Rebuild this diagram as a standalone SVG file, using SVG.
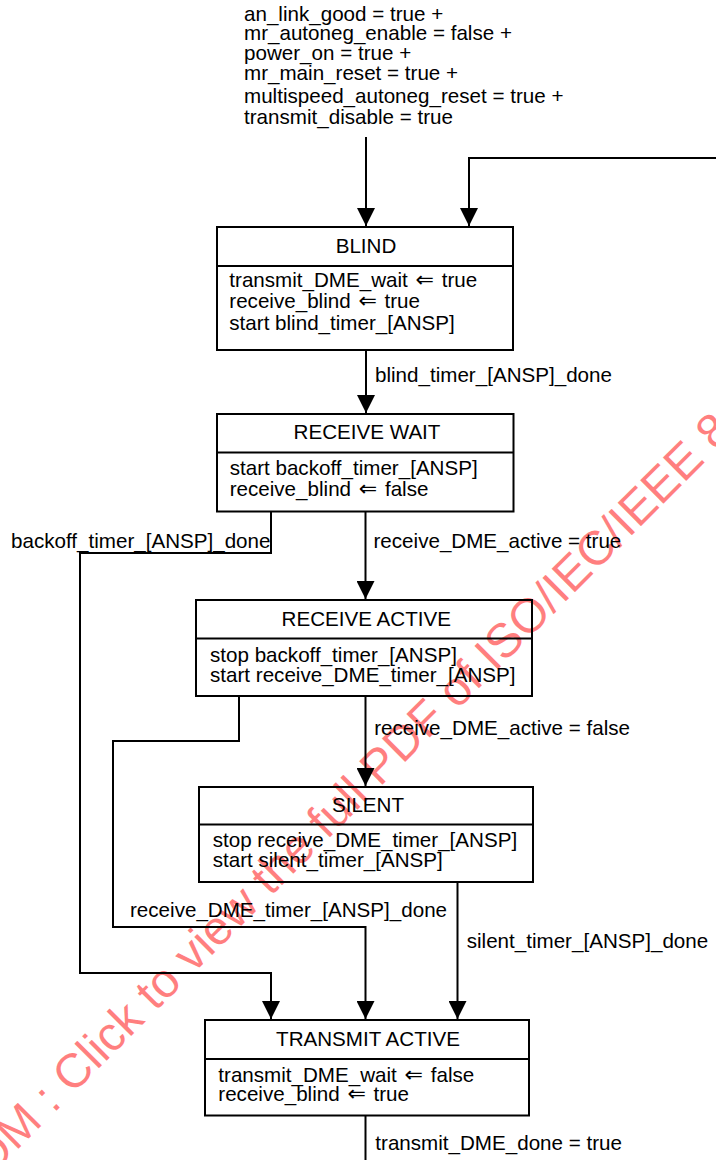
<svg xmlns="http://www.w3.org/2000/svg" width="716" height="1160" viewBox="0 0 716 1160">
<defs>
<style>
text{font-family:"Liberation Sans","DejaVu Sans",Arial,sans-serif;font-size:20.6px;fill:#000}
.t{text-anchor:middle}
.ar{font-family:"DejaVu Sans",sans-serif;font-size:22px}
.box{fill:none;stroke:#000;stroke-width:2}
.ln{fill:none;stroke:#000;stroke-width:2}
.wm{font-size:48px;fill:#ff0000;fill-opacity:0.5}
</style>
<marker id="ah" markerUnits="userSpaceOnUse" viewBox="0 0 18 18" markerWidth="18" markerHeight="18" refX="18" refY="9" orient="auto">
<path d="M0,0 L18,9 L0,18 z" fill="#000"/>
</marker>
</defs>
<rect x="0" y="0" width="716" height="1160" fill="#fff"/>
<g id="watermark" transform="translate(-10.6,1177.9) rotate(-45)">
<text class="wm" x="0" y="0">OM : Click to view the full PDF of ISO/IEC/IEEE 8</text>
</g>
<g id="start-condition">
<text x="244" y="21">an_link_good = true +</text>
<text x="244" y="39.5">mr_autoneg_enable = false +</text>
<text x="244" y="60">power_on = true +</text>
<text x="244" y="79.5">mr_main_reset = true +</text>
<text x="244" y="103">multispeed_autoneg_reset = true +</text>
<text x="244" y="123.5">transmit_disable = true</text>
</g>
<g id="connectors">
<path class="ln" d="M366,137 V226" marker-end="url(#ah)"/>
<path class="ln" d="M716,158 H469 V226" marker-end="url(#ah)"/>
<path class="ln" d="M366,350 V413" marker-end="url(#ah)"/>
<path class="ln" d="M365.5,511.5 V599" marker-end="url(#ah)"/>
<path class="ln" d="M271,511.5 V553 H80 V973 H271 V1019" marker-end="url(#ah)"/>
<path class="ln" d="M365.5,696 V786" marker-end="url(#ah)"/>
<path class="ln" d="M239,696 V741 H113 V927 H365.5 V1019" marker-end="url(#ah)"/>
<path class="ln" d="M457.5,882 V1019" marker-end="url(#ah)"/>
<path class="ln" d="M365.5,1115.5 V1160"/>
<text x="375" y="382">blind_timer_[ANSP]_done</text>
<text x="11" y="548.3">backoff_timer_[ANSP]_done</text>
<text x="373.5" y="548">receive_DME_active = true</text>
<text x="374.2" y="735">receive_DME_active = false</text>
<text x="130" y="916.7">receive_DME_timer_[ANSP]_done</text>
<text x="466.7" y="948.3">silent_timer_[ANSP]_done</text>
<text x="375.3" y="1150">transmit_DME_done = true</text>
</g>
<g id="blind">
<rect class="box" x="217" y="227" width="296" height="123"/>
<line class="ln" x1="217" y1="266" x2="513" y2="266"/>
<text class="t" x="366" y="253.3">BLIND</text>
<text x="229.3" y="287.3">transmit_DME_wait <tspan class="ar" dx="2">⇐</tspan><tspan dx="2"> true</tspan></text>
<text x="229.3" y="308.3">receive_blind <tspan class="ar" dx="2">⇐</tspan><tspan dx="2"> true</tspan></text>
<text x="229.3" y="330">start blind_timer_[ANSP]</text>
</g>
<g id="receive-wait">
<rect class="box" x="217" y="414" width="296.5" height="97.5"/>
<line class="ln" x1="217" y1="452.5" x2="513.5" y2="452.5"/>
<text class="t" x="367" y="439.3">RECEIVE WAIT</text>
<text x="229.7" y="475">start backoff_timer_[ANSP]</text>
<text x="229.7" y="495.7">receive_blind <tspan class="ar" dx="2">⇐</tspan><tspan dx="2"> false</tspan></text>
</g>
<g id="receive-active">
<rect class="box" x="196" y="600" width="336" height="96"/>
<line class="ln" x1="196" y1="638.5" x2="532" y2="638.5"/>
<text class="t" x="366.3" y="625.7">RECEIVE ACTIVE</text>
<text x="210" y="661.7">stop backoff_timer_[ANSP]</text>
<text x="210" y="682.3">start receive_DME_timer_[ANSP]</text>
</g>
<g id="silent">
<rect class="box" x="199" y="787" width="334" height="95"/>
<line class="ln" x1="199" y1="824.5" x2="533" y2="824.5"/>
<text class="t" x="368" y="811.7">SILENT</text>
<text x="212.7" y="846.7">stop receive_DME_timer_[ANSP]</text>
<text x="212.7" y="867.3">start silent_timer_[ANSP]</text>
</g>
<g id="transmit-active">
<rect class="box" x="205" y="1020" width="324" height="95.5"/>
<line class="ln" x1="205" y1="1059" x2="529" y2="1059"/>
<text class="t" x="368" y="1045.7">TRANSMIT ACTIVE</text>
<text x="218.3" y="1081.7">transmit_DME_wait <tspan class="ar" dx="2">⇐</tspan><tspan dx="2"> false</tspan></text>
<text x="218.3" y="1101">receive_blind <tspan class="ar" dx="2">⇐</tspan><tspan dx="2"> true</tspan></text>
</g>
</svg>
